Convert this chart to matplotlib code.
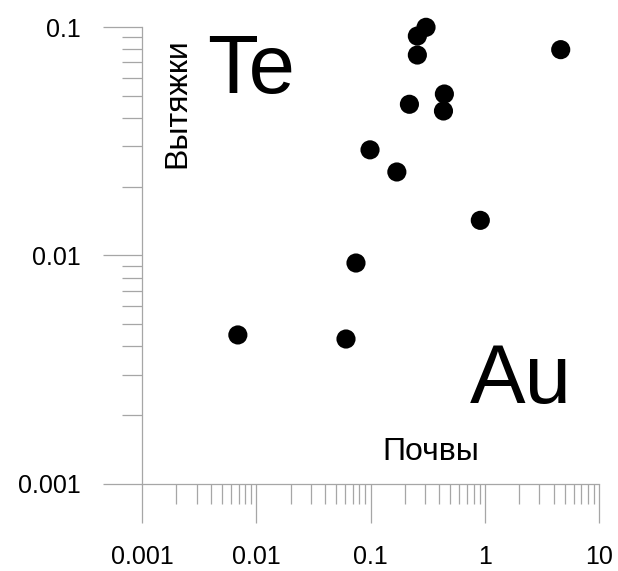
import matplotlib
matplotlib.use('Agg')
import matplotlib.pyplot as plt
from matplotlib.ticker import LogLocator, NullFormatter, FixedLocator, FixedFormatter

plt.rcParams['font.family'] = ['Liberation Sans', 'DejaVu Sans']

# Почвы (x) vs Вытяжки (y)
pochvy = [0.0069, 0.061, 0.0746, 0.099, 0.17, 0.219, 0.257, 0.257, 0.306, 0.443, 0.435, 0.914, 4.62]
vytyazhki = [0.00449, 0.00431, 0.00927, 0.029, 0.0232, 0.0459, 0.0754, 0.0913, 0.0997, 0.0509, 0.0429, 0.01425, 0.0796]

x_ticks = [0.001, 0.01, 0.1, 1, 10]
x_labels = ['0.001', '0.01', '0.1', '1', '10']
y_ticks = [0.001, 0.01, 0.1]
y_labels = ['0.001', '0.01', '0.1']

axis_grey = '#a6a6a6'

fig = plt.figure(figsize=(6.18, 5.71), dpi=100)
ax = fig.add_axes([0.2298, 0.1524, 0.9693 - 0.2298, 0.9527 - 0.1524])

ax.scatter(pochvy, vytyazhki, s=190, c='black', edgecolors='none', clip_on=False, zorder=3)

ax.set_xscale('log')
ax.set_yscale('log')
ax.set_xlim(0.001, 10)
ax.set_ylim(0.001, 0.1)

ax.xaxis.set_major_locator(FixedLocator(x_ticks))
ax.xaxis.set_major_formatter(FixedFormatter(x_labels))
ax.yaxis.set_major_locator(FixedLocator(y_ticks))
ax.yaxis.set_major_formatter(FixedFormatter(y_labels))
ax.xaxis.set_minor_locator(LogLocator(base=10, subs=range(2, 10)))
ax.yaxis.set_minor_locator(LogLocator(base=10, subs=range(2, 10)))
ax.xaxis.set_minor_formatter(NullFormatter())
ax.yaxis.set_minor_formatter(NullFormatter())

for side in ['top', 'right']:
    ax.spines[side].set_visible(False)
for side in ['left', 'bottom']:
    ax.spines[side].set_color(axis_grey)
    ax.spines[side].set_linewidth(0.9)

ax.tick_params(which='major', length=28, width=0.9, color=axis_grey, labelsize=18, pad=16, direction='out')
ax.tick_params(which='minor', length=14.4, width=0.9, color=axis_grey, direction='out')

ax.text(0.0037, 0.0514, 'Te', fontsize=60, ha='left', va='baseline')
ax.text(0.74, 0.00226, 'Au', fontsize=60, ha='left', va='baseline')
ax.text(0.339, 0.00127, 'Почвы', fontsize=23, ha='center', va='baseline')
ax.text(0.00202, 0.0241, 'Вытяжки', fontsize=23, rotation=90, ha='center', va='bottom')

fig.savefig('out.png', dpi=100)
